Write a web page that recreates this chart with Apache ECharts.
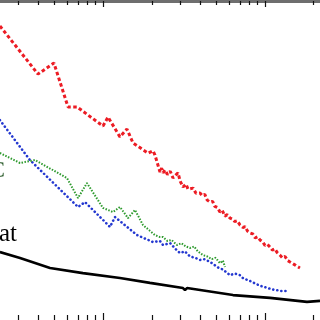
<!DOCTYPE html>
<html>
<head>
    <meta charset="utf-8">
    <title>log-log decay</title>
    <script src="https://cdn.jsdelivr.net/npm/echarts@6.0.0/dist/echarts.min.js"></script>
    <style>
        body { margin: 0; padding: 0; background: #fff; }
        #chart { width: 320px; height: 320px; }
    </style>
</head>
<body>
    <div id="chart"></div>
    <script>
        // axis range (log-log)
        var xRange = [2.313, 218.6];
        var yRange = [1.0737, 100];
        var majorTicks = [10, 100];
        var minorTicks = [3, 4, 5, 6, 7, 8, 9, 20, 30, 40, 50, 60, 70, 80, 90, 200];

        var redData = [
            [2.31, 70.1], [3.97, 35.4], [4.98, 41.4], [6.08, 22.2], [6.91, 22.2],
            [10, 16.9], [10.74, 19.2], [12.73, 14.5], [14.06, 16.2], [15.32, 13.3],
            [18.96, 11.5], [20.36, 11.9], [20.94, 11.2], [22.49, 8.8], [23.0, 9.3],
            [23.5, 8.7], [24.14, 9.05], [25, 8.5], [26, 8.9], [27.05, 8.08],
            [28, 8.4], [29.04, 8.68], [30, 7.7], [31.18, 7.11], [32.5, 7.4],
            [33.5, 6.9], [34.44, 6.81], [36, 7.0], [37.5, 6.5], [39.69, 6.53],
            [41, 6.3], [42.5, 6.4], [44, 5.9], [45.76, 5.74], [47.5, 5.8],
            [49, 5.4], [51, 5.3], [52.73, 4.98], [54.5, 5.1], [56.5, 4.7],
            [58.5, 4.8], [60.81, 4.57], [63, 4.5], [65, 4.35], [67.5, 4.4],
            [70.11, 4.14], [73, 4.0], [75.5, 4.05], [78, 3.8], [80.81, 3.7],
            [84, 3.65], [87, 3.45], [90, 3.5], [93.13, 3.35], [97, 3.25],
            [100, 3.1], [103.5, 3.15], [107.4, 3.03], [111, 2.9], [115, 2.95],
            [119, 2.8], [123.8, 2.7], [128, 2.6], [133, 2.65], [138, 2.5],
            [142.7, 2.45], [148, 2.4], [153, 2.35], [158, 2.3], [164.4, 2.25]
        ];
        var blueData = [
            [2.31, 18.4], [3.54, 10.43], [7.01, 5.35], [7.74, 5.74], [11.05, 4.03],
            [11.86, 4.64], [16.22, 3.59], [20.36, 3.25], [22.49, 3.3], [23.46, 3.12],
            [26, 3.2], [28, 2.95], [29.88, 2.78], [32, 2.85], [34.44, 2.65],
            [37, 2.6], [39.69, 2.52], [42.5, 2.55], [45.76, 2.45], [48, 2.38],
            [50.53, 2.28], [55, 2.2], [60.81, 2.03], [65, 2.08], [70.11, 2.03],
            [73, 1.95], [77.44, 1.9], [82, 1.86], [87, 1.8], [92, 1.76],
            [97.2, 1.72], [103, 1.7], [110, 1.66], [118.6, 1.64], [126, 1.62],
            [136.7, 1.62]
        ];
        var greenData = [
            [2.31, 11.53], [3.075, 10.0], [3.8, 10.43], [5.99, 8.08], [7.01, 6.08],
            [7.96, 7.52], [10, 5.28], [11.53, 4.98], [12.73, 5.35], [14.27, 4.57],
            [15.76, 5.13], [17.66, 4.14], [20.94, 3.59], [22.49, 3.49], [23.46, 3.49],
            [25, 3.3], [26.5, 3.35], [28.63, 3.12], [30.5, 3.2], [32.5, 3.05],
            [34.44, 2.99], [36.5, 3.05], [38.5, 2.85], [41.43, 2.7], [44, 2.65],
            [47, 2.55], [49.5, 2.6], [52.73, 2.41], [55, 2.5], [56.63, 2.28]
        ];
        var blackData = [
            [2.31, 2.82], [3.075, 2.59], [4.71, 2.25], [7.52, 2.09], [12.73, 1.95],
            [19.5, 1.82], [31.18, 1.69], [32.08, 1.64], [33.0, 1.69], [63.46, 1.53],
            [107.4, 1.47], [181.7, 1.39], [218.6, 1.41]
        ];

        function xAxisDef(pos, ticks, len, showLine) {
            return {
                type: 'log', logBase: 10, position: pos,
                min: xRange[0], max: xRange[1],
                axisLine: { show: showLine, onZero: false, lineStyle: { color: '#6e6e6e', width: 3 } },
                axisTick: { show: true, inside: true, length: len, customValues: ticks,
                    lineStyle: { color: '#111', width: 1.2 } },
                axisLabel: { show: false },
                splitLine: { show: false }
            };
        }

        var chart = echarts.init(document.getElementById('chart'));
        chart.setOption({
            animation: false,
            grid: { left: 0, right: 0, top: 1, bottom: 0 },
            xAxis: [
                xAxisDef('top', majorTicks, 6, true),
                xAxisDef('top', minorTicks, 4, false),
                xAxisDef('bottom', majorTicks, 7, false),
                xAxisDef('bottom', minorTicks, 5, false)
            ],
            yAxis: {
                type: 'log', logBase: 10, min: yRange[0], max: yRange[1], show: false
            },
            graphic: [
                { type: 'text', left: -1, top: 222, style: { text: 'at', font: '25px "Liberation Serif"', fill: '#000' } },
                { type: 'text', left: -11, top: 159, style: { text: 'C', font: '24px "Liberation Serif"', fill: '#2e5e2e' } }
            ],
            series: [
                { type: 'line', data: blackData, showSymbol: false, z: 2,
                  lineStyle: { color: '#000', width: 2.6 } },
                { type: 'line', data: blueData, showSymbol: false, z: 3,
                  lineStyle: { color: '#2438d0', width: 2.6, type: [0.1, 4], cap: 'round' } },
                { type: 'line', data: greenData, showSymbol: false, z: 4,
                  lineStyle: { color: '#2e9a2e', width: 2, type: [1.5, 1.5] } },
                { type: 'line', data: redData, showSymbol: false, z: 5,
                  lineStyle: { color: '#ec1c24', width: 3, type: [3.5, 2.5] } }
            ]
        });
    </script>
</body>
</html>
